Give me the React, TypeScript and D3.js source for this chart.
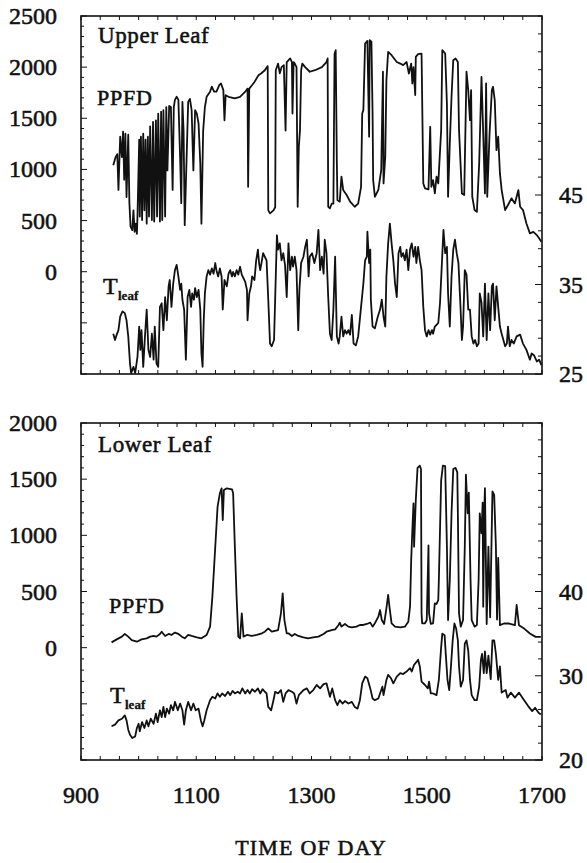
import React from "react";
import * as d3 from "d3";

// time of day (hhmm scale) and PPFD / leaf temperature readings
const xLabels = [900, 1100, 1300, 1500, 1700];
const upperLeftLabels = [0, 500, 1000, 1500, 2000, 2500];
const upperRightLabels = [25, 35, 45];
const lowerLeftLabels = [0, 500, 1000, 1500, 2000];
const lowerRightLabels = [20, 30, 40];

const upperPpfd: [number, number][] = [
  [956, 1040], [960, 1120], [963, 1150], [965, 800], [968, 1320], [971, 1120], [973, 1370], [975, 900],
  [977, 1350], [979, 730], [982, 1340], [984, 670], [986, 440], [989, 407], [991, 600], [993, 390],
  [995, 470], [997, 370], [998, 540], [1001, 1290], [1002, 540], [1004, 1320], [1006, 505], [1008, 1350],
  [1010, 600], [1012, 1290], [1014, 470], [1016, 1320], [1018, 540], [1020, 1420], [1023, 505], [1025, 1465],
  [1027, 490], [1030, 1480], [1032, 540], [1034, 1545], [1037, 490], [1039, 1565], [1041, 505], [1043, 1580],
  [1046, 540], [1048, 1610], [1050, 990], [1053, 1620], [1056, 1610], [1059, 800], [1061, 1610], [1063, 1680],
  [1066, 1710], [1069, 1680], [1072, 1120], [1074, 670], [1076, 1660], [1078, 1380], [1080, 455], [1083, 1060],
  [1086, 1660], [1089, 1690], [1092, 1580], [1095, 990], [1098, 1580], [1101, 1545], [1104, 1450], [1107, 1060],
  [1109, 470], [1112, 1380], [1115, 1610], [1118, 1710], [1124, 1760], [1127, 1810], [1131, 1760], [1135, 1760],
  [1140, 1825], [1143, 1840], [1147, 1775], [1149, 1480], [1151, 1725], [1156, 1710], [1167, 1695], [1176, 1710],
  [1185, 1760], [1189, 1790], [1190, 830], [1192, 1790], [1197, 1825], [1201, 1855], [1208, 1920], [1213, 1940],
  [1219, 1970], [1224, 2010], [1225, 600], [1228, 570], [1234, 600], [1237, 630], [1238, 1970], [1242, 2035],
  [1245, 1940], [1248, 2000], [1252, 2020], [1255, 1380], [1257, 2050], [1263, 2085], [1266, 2050], [1267, 1547],
  [1269, 2050], [1271, 2035], [1274, 2000], [1276, 635], [1278, 1220], [1280, 1384], [1282, 1970], [1284, 2035],
  [1289, 2000], [1297, 1955], [1306, 1970], [1318, 2000], [1326, 2050], [1328, 2085], [1329, 635], [1332, 620],
  [1335, 665], [1338, 665], [1340, 2130], [1342, 2166], [1344, 1060], [1345, 700], [1349, 685], [1352, 930],
  [1355, 800], [1361, 750], [1367, 685], [1375, 635], [1381, 665], [1386, 830], [1388, 1547], [1390, 1580],
  [1393, 2230], [1397, 2257], [1400, 1320], [1401, 2264], [1404, 2250], [1406, 1547], [1407, 896], [1410, 733],
  [1416, 800], [1421, 993], [1424, 1955], [1425, 863], [1428, 1124], [1430, 1873], [1433, 2150], [1439, 2117],
  [1448, 2050], [1454, 2035], [1459, 2020], [1465, 2050], [1469, 1938], [1473, 2035], [1475, 1840], [1477, 2000],
  [1480, 1727], [1481, 2100], [1485, 2127], [1491, 2133], [1494, 863], [1497, 815], [1503, 805], [1506, 1417],
  [1508, 830], [1511, 896], [1514, 765], [1517, 930], [1520, 863], [1525, 1384], [1527, 2166], [1532, 2133],
  [1535, 1645], [1537, 733], [1540, 1254], [1543, 1710], [1546, 2068], [1550, 2085], [1554, 2050], [1556, 1384],
  [1561, 765], [1565, 750], [1569, 1955], [1572, 1775], [1575, 1482], [1577, 1775], [1579, 733], [1583, 603],
  [1587, 585], [1591, 1060], [1595, 1905], [1598, 1352], [1601, 765], [1603, 1840], [1605, 733], [1609, 1352],
  [1613, 1775], [1615, 1808], [1618, 1678], [1621, 1189], [1624, 1320], [1627, 961], [1630, 798], [1636, 603],
  [1641, 652], [1647, 717], [1653, 668], [1659, 798], [1662, 635], [1667, 603], [1673, 472], [1679, 375],
  [1685, 390], [1691, 358], [1699, 293],
];

const upperTleaf: [number, number][] = [
  [956, 29.5], [959, 28.8], [962, 29.4], [965, 29.9], [968, 31.4], [972, 32.0], [976, 31.8], [979, 31.0],
  [982, 29.2], [985, 26.2], [987, 25.1], [991, 25.8], [994, 25.1], [998, 26.9], [1001, 30.3], [1003, 27.7],
  [1005, 29.9], [1008, 25.8], [1011, 29.2], [1014, 32.2], [1017, 27.7], [1020, 26.9], [1023, 29.5], [1026, 26.6],
  [1028, 30.3], [1031, 26.2], [1034, 25.8], [1037, 32.5], [1040, 32.9], [1043, 29.9], [1046, 33.6], [1049, 31.0],
  [1052, 34.8], [1054, 35.5], [1057, 32.5], [1060, 35.1], [1063, 36.6], [1066, 37.2], [1069, 35.9], [1072, 34.4],
  [1074, 35.1], [1076, 33.3], [1079, 32.2], [1082, 26.6], [1085, 33.6], [1088, 34.4], [1091, 32.5], [1093, 34.0],
  [1096, 33.3], [1098, 34.6], [1101, 33.6], [1104, 34.4], [1107, 32.2], [1109, 27.3], [1111, 25.8], [1113, 31.0],
  [1115, 34.0], [1118, 35.9], [1121, 36.6], [1124, 36.1], [1127, 36.8], [1130, 36.2], [1133, 37.4], [1135, 36.6],
  [1138, 35.9], [1141, 36.8], [1144, 35.9], [1146, 32.2], [1149, 35.5], [1153, 34.8], [1156, 36.2], [1159, 36.6],
  [1162, 35.9], [1164, 36.4], [1167, 35.9], [1170, 36.6], [1173, 36.1], [1176, 37.0], [1179, 36.1], [1182, 35.7],
  [1185, 35.3], [1188, 34.4], [1189, 31.0], [1192, 34.0], [1195, 34.8], [1197, 35.9], [1201, 35.5], [1204, 37.7],
  [1207, 38.9], [1209, 37.4], [1211, 36.6], [1214, 37.7], [1216, 38.5], [1219, 38.1], [1222, 37.7], [1225, 33.3],
  [1228, 28.4], [1231, 28.1], [1235, 28.8], [1238, 35.9], [1240, 40.5], [1242, 38.9], [1245, 39.6], [1248, 37.7],
  [1251, 38.5], [1254, 37.2], [1257, 33.6], [1260, 39.6], [1263, 36.6], [1266, 38.1], [1268, 37.0], [1271, 38.1],
  [1274, 36.6], [1277, 29.9], [1279, 34.4], [1282, 37.4], [1286, 38.1], [1289, 39.2], [1292, 40.0], [1295, 35.9],
  [1297, 38.1], [1301, 38.5], [1305, 37.4], [1309, 38.5], [1312, 41.1], [1315, 36.6], [1318, 38.1], [1321, 36.2],
  [1323, 40.0], [1326, 38.5], [1329, 33.6], [1332, 29.5], [1335, 28.8], [1338, 32.2], [1341, 38.1], [1344, 29.2],
  [1347, 28.4], [1349, 29.2], [1352, 31.4], [1355, 29.2], [1358, 29.9], [1361, 29.5], [1364, 29.9], [1367, 29.4],
  [1370, 31.6], [1373, 28.4], [1377, 28.2], [1381, 29.2], [1386, 32.5], [1390, 35.1], [1393, 37.7], [1396, 38.1],
  [1397, 40.9], [1400, 37.4], [1402, 38.9], [1403, 33.3], [1406, 30.3], [1410, 30.1], [1415, 31.4], [1419, 32.2],
  [1422, 33.3], [1425, 31.4], [1428, 30.3], [1430, 35.9], [1433, 39.6], [1436, 41.8], [1439, 39.6], [1442, 37.7],
  [1445, 35.1], [1448, 33.6], [1451, 38.5], [1454, 39.2], [1456, 38.1], [1459, 38.5], [1462, 37.7], [1465, 38.9],
  [1468, 36.6], [1471, 38.9], [1474, 39.6], [1477, 38.1], [1480, 39.2], [1482, 37.4], [1485, 39.2], [1488, 37.7],
  [1491, 36.6], [1494, 32.5], [1497, 29.9], [1500, 29.2], [1503, 29.9], [1506, 29.4], [1509, 29.9], [1511, 29.5],
  [1514, 30.3], [1517, 30.5], [1520, 30.7], [1523, 32.9], [1526, 37.0], [1529, 41.1], [1532, 38.5], [1535, 39.2],
  [1537, 34.0], [1540, 30.3], [1543, 35.9], [1546, 38.9], [1549, 40.0], [1552, 38.5], [1555, 37.4], [1558, 33.3],
  [1561, 28.8], [1563, 30.3], [1566, 36.6], [1569, 36.1], [1572, 32.2], [1575, 32.2], [1578, 29.2], [1581, 28.4],
  [1584, 28.8], [1587, 28.1], [1590, 28.4], [1592, 34.0], [1595, 33.0], [1598, 29.2], [1601, 35.1], [1604, 28.8],
  [1607, 34.0], [1610, 29.9], [1613, 34.8], [1615, 35.1], [1618, 31.0], [1621, 34.8], [1624, 32.5], [1627, 30.3],
  [1630, 29.5], [1633, 28.8], [1636, 28.1], [1639, 28.4], [1641, 30.3], [1644, 28.1], [1647, 28.8], [1651, 28.4],
  [1656, 29.2], [1662, 29.4], [1667, 28.4], [1673, 27.7], [1679, 26.6], [1682, 27.3], [1686, 27.1], [1691, 26.4],
  [1695, 26.6], [1699, 26.0],
];

const lowerPpfd: [number, number][] = [
  [953, 47], [962, 74], [971, 98], [976, 122], [982, 98], [988, 68], [997, 53], [1005, 74],
  [1014, 83], [1020, 98], [1026, 104], [1031, 98], [1037, 122], [1040, 142], [1046, 104], [1052, 122],
  [1057, 113], [1063, 134], [1069, 122], [1075, 98], [1080, 83], [1086, 113], [1092, 104], [1101, 92],
  [1109, 83], [1118, 113], [1124, 187], [1128, 454], [1133, 899], [1137, 1255], [1141, 1374], [1144, 1418],
  [1146, 1136], [1148, 1403], [1153, 1418], [1162, 1410], [1164, 1374], [1167, 899], [1170, 454], [1173, 98],
  [1176, 83], [1179, 306], [1182, 98], [1188, 113], [1196, 104], [1205, 113], [1214, 128], [1219, 142],
  [1225, 172], [1231, 142], [1242, 157], [1247, 306], [1250, 484], [1253, 246], [1257, 128], [1260, 128],
  [1266, 104], [1271, 122], [1277, 104], [1286, 92], [1294, 83], [1303, 92], [1312, 98], [1321, 122],
  [1326, 142], [1335, 157], [1341, 163], [1347, 202], [1349, 223], [1352, 187], [1358, 211], [1364, 187],
  [1370, 181], [1378, 187], [1384, 202], [1390, 202], [1396, 211], [1402, 223], [1406, 187], [1410, 217],
  [1416, 276], [1419, 335], [1422, 246], [1426, 211], [1430, 350], [1433, 469], [1436, 335], [1439, 217],
  [1445, 187], [1454, 181], [1462, 187], [1468, 231], [1471, 365], [1473, 780], [1475, 1047], [1477, 1285],
  [1478, 899], [1481, 1315], [1484, 1600], [1488, 1620], [1490, 1590], [1491, 306], [1492, 217], [1497, 217],
  [1500, 246], [1503, 910], [1504, 306], [1507, 211], [1511, 217], [1514, 395], [1517, 389], [1520, 424],
  [1521, 602], [1525, 1490], [1528, 1620], [1532, 1615], [1535, 899], [1537, 246], [1540, 602], [1543, 1196],
  [1546, 1590], [1550, 1600], [1553, 1560], [1554, 1196], [1556, 306], [1559, 187], [1563, 246], [1566, 899],
  [1568, 1540], [1571, 1196], [1573, 1380], [1576, 602], [1578, 246], [1583, 187], [1587, 202], [1590, 602],
  [1592, 1196], [1595, 1018], [1597, 1290], [1598, 365], [1600, 1255], [1601, 1420], [1604, 210], [1607, 900],
  [1610, 270], [1614, 1390], [1617, 1360], [1620, 900], [1622, 250], [1624, 800], [1627, 200], [1634, 215],
  [1643, 215], [1653, 200], [1656, 380], [1660, 200], [1669, 170], [1679, 126], [1689, 96], [1698, 96],
];

const lowerTleaf: [number, number][] = [
  [953, 24.0], [959, 24.2], [965, 24.7], [971, 24.9], [976, 25.3], [979, 24.7], [982, 23.6], [985, 23.0],
  [989, 22.6], [994, 22.8], [997, 23.8], [1000, 24.3], [1002, 23.4], [1006, 24.5], [1010, 23.8], [1014, 24.7],
  [1017, 24.0], [1021, 24.9], [1026, 24.3], [1030, 25.5], [1033, 24.5], [1037, 25.9], [1040, 25.1], [1043, 26.3],
  [1046, 25.1], [1049, 26.1], [1053, 25.5], [1056, 26.5], [1060, 25.9], [1063, 26.9], [1068, 25.9], [1072, 26.7],
  [1076, 25.9], [1079, 24.2], [1082, 25.9], [1086, 26.9], [1091, 25.9], [1095, 26.7], [1099, 25.9], [1104, 26.1],
  [1108, 24.7], [1111, 24.0], [1114, 24.7], [1118, 25.9], [1124, 27.1], [1128, 27.5], [1133, 27.3], [1137, 27.9],
  [1141, 27.5], [1145, 27.9], [1150, 27.6], [1155, 28.1], [1159, 27.7], [1163, 28.2], [1167, 27.9], [1172, 28.1],
  [1176, 27.9], [1180, 28.5], [1185, 27.9], [1189, 28.3], [1193, 27.9], [1197, 28.4], [1202, 28.1], [1207, 28.5],
  [1211, 27.9], [1215, 28.4], [1219, 28.1], [1222, 27.9], [1225, 26.3], [1230, 25.9], [1234, 27.1], [1237, 28.1],
  [1242, 27.9], [1247, 28.3], [1251, 26.9], [1255, 27.9], [1260, 28.3], [1266, 28.1], [1270, 27.9], [1274, 26.7],
  [1278, 27.7], [1286, 28.3], [1292, 28.5], [1297, 27.9], [1303, 28.3], [1309, 28.9], [1315, 28.5], [1321, 29.0],
  [1326, 29.1], [1332, 27.5], [1336, 28.5], [1341, 27.1], [1345, 26.5], [1349, 27.1], [1354, 26.7], [1358, 27.0],
  [1364, 26.7], [1370, 26.9], [1375, 26.3], [1380, 26.1], [1384, 27.1], [1388, 29.1], [1393, 29.9], [1397, 29.7],
  [1402, 28.5], [1406, 27.3], [1410, 27.1], [1416, 27.3], [1421, 28.3], [1423, 28.7], [1425, 27.7], [1430, 29.5],
  [1433, 30.1], [1438, 29.7], [1442, 29.1], [1448, 29.9], [1454, 30.3], [1459, 30.2], [1465, 30.5], [1471, 30.9],
  [1474, 30.5], [1478, 31.3], [1483, 31.7], [1485, 31.9], [1488, 31.1], [1491, 29.3], [1497, 28.9], [1502, 28.5],
  [1504, 29.3], [1507, 27.9], [1511, 27.9], [1517, 27.7], [1521, 29.5], [1525, 33.4], [1527, 35.0], [1531, 34.8],
  [1533, 32.6], [1536, 29.5], [1539, 28.3], [1542, 31.1], [1545, 34.2], [1548, 36.2], [1551, 35.6], [1554, 34.2],
  [1556, 31.1], [1559, 28.7], [1563, 29.5], [1566, 33.8], [1569, 34.2], [1572, 33.0], [1575, 29.5], [1578, 27.7],
  [1583, 27.1], [1587, 27.1], [1591, 28.7], [1594, 31.9], [1596, 32.6], [1599, 30.3], [1601, 32.9], [1604, 30.3],
  [1607, 32.4], [1611, 29.6], [1614, 34.2], [1617, 34.2], [1620, 32.6], [1624, 29.5], [1627, 31.1], [1630, 28.0],
  [1637, 28.3], [1640, 27.4], [1646, 28.0], [1653, 27.4], [1660, 28.0], [1666, 27.4], [1676, 26.4], [1683, 25.8],
  [1688, 26.2], [1694, 25.6], [1698, 25.4],
];

const FONT = "'Liberation Serif', 'Times New Roman', serif";
const INK = "#111";
const x = d3.scaleLinear([900, 1700], [81, 542]);
const xMinor = d3.range(0, 25).map((i) => 900 + (i * 100) / 3);

// scanned text looks heavy: regular serif with a thin outline
const txt = { fontFamily: FONT, fill: INK, stroke: INK, strokeWidth: 0.55 };

type PanelProps = {
  top: number;
  bottom: number;
  leftDomain: [number, number];
  rightDomain: [number, number];
  leftLabels: number[];
  rightLabels: number[];
  ppfd: [number, number][];
  tleaf: [number, number][];
  title: string;
  titlePos: [number, number];
  ppfdPos: [number, number];
  tPos: [number, number];
};

function Panel(p: PanelProps) {
  const yL = d3.scaleLinear(p.leftDomain, [p.bottom, p.top]);
  const yR = d3.scaleLinear(p.rightDomain, [p.bottom, p.top]);
  const lineL = d3.line<[number, number]>().x((d) => x(d[0])).y((d) => yL(d[1]));
  const lineR = d3.line<[number, number]>().x((d) => x(d[0])).y((d) => yR(d[1]));
  const leftMinor = d3.range(p.leftDomain[0], p.leftDomain[1] + 1, 100);
  const rightMinor = d3.range(p.rightDomain[0], p.rightDomain[1] + 0.1, 2);
  const [x0, x1] = x.range();

  return (
    <g>
      <rect x={x0} y={p.top} width={x1 - x0} height={p.bottom - p.top} fill="none" stroke={INK} strokeWidth={1.6} />
      {xMinor.map((t, i) => (
        <g key={i} stroke={INK} strokeWidth={1}>
          <line x1={x(t)} x2={x(t)} y1={p.top} y2={p.top + 4} />
          <line x1={x(t)} x2={x(t)} y1={p.bottom} y2={p.bottom - 4} />
        </g>
      ))}
      {leftMinor.map((v, i) => (
        <line key={i} x1={x0} x2={x0 + (v % 500 === 0 ? 6 : 3)} y1={yL(v)} y2={yL(v)} stroke={INK} strokeWidth={1} />
      ))}
      {rightMinor.map((v, i) => (
        <line key={i} x1={x1} x2={x1 - (p.rightLabels.includes(v) ? 7 : 4)} y1={yR(v)} y2={yR(v)} stroke={INK} strokeWidth={1} />
      ))}
      {p.leftLabels.map((v) => (
        <text key={v} x={57} y={yL(v) + 8} textAnchor="end" fontSize={24} {...txt}>{v}</text>
      ))}
      {p.rightLabels.map((v) => (
        <text key={v} x={559} y={yR(v) + 8} fontSize={24} {...txt}>{v}</text>
      ))}
      <path d={lineL(p.ppfd) ?? ""} fill="none" stroke={INK} strokeWidth={1.8} strokeLinejoin="round" />
      <path d={lineR(p.tleaf) ?? ""} fill="none" stroke={INK} strokeWidth={1.8} strokeLinejoin="round" />
      <text x={p.titlePos[0]} y={p.titlePos[1]} fontSize={23} letterSpacing={0.6} {...txt}>{p.title}</text>
      <text x={p.ppfdPos[0]} y={p.ppfdPos[1]} fontSize={22} letterSpacing={0.8} {...txt}>PPFD</text>
      <text x={p.tPos[0]} y={p.tPos[1]} fontSize={24} {...txt}>T</text>
      <text x={p.tPos[0] + 15} y={p.tPos[1] + 6} fontSize={13} fontWeight="bold" {...txt} strokeWidth={0.3}>leaf</text>
    </g>
  );
}

export default function App() {
  return (
    <svg width={587} height={863} style={{ position: "absolute", left: 0, top: 0, background: "#fff" }}>
      <Panel
        top={16} bottom={374}
        leftDomain={[-1000, 2500]} rightDomain={[25, 65]}
        leftLabels={upperLeftLabels} rightLabels={upperRightLabels}
        ppfd={upperPpfd} tleaf={upperTleaf}
        title="Upper Leaf" titlePos={[98, 43]} ppfdPos={[97, 105]} tPos={[103, 294]}
      />
      <Panel
        top={423} bottom={760}
        leftDomain={[-1000, 2000]} rightDomain={[20, 60]}
        leftLabels={lowerLeftLabels} rightLabels={lowerRightLabels}
        ppfd={lowerPpfd} tleaf={lowerTleaf}
        title="Lower Leaf" titlePos={[98, 452]} ppfdPos={[109, 613]} tPos={[110, 703]}
      />
      {xLabels.map((v) => (
        <text key={v} x={x(v)} y={803} textAnchor="middle" fontSize={24} {...txt}>{v}</text>
      ))}
      <text x={311} y={855} textAnchor="middle" fontSize={22} letterSpacing={1.2} {...txt}>TIME OF DAY</text>
    </svg>
  );
}
